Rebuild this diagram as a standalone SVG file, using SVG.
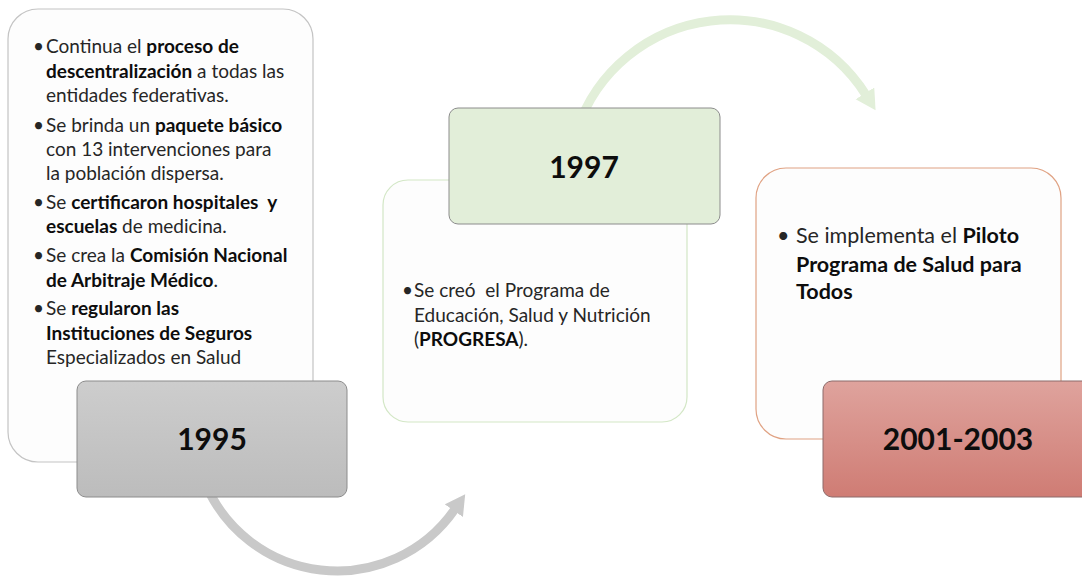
<svg xmlns="http://www.w3.org/2000/svg" width="1082" height="577" viewBox="0 0 1082 577">
<defs>
<style>
.t{font-family:Lato,"Liberation Sans",sans-serif;font-size:19px;fill:#262626}
.t3{font-family:Lato,"Liberation Sans",sans-serif;font-size:21.5px;fill:#262626}
.b{font-weight:bold;fill:#0d0d0d}
.yr{font-family:Lato,"Liberation Sans",sans-serif;font-size:30px;font-weight:bold;fill:#0d0d0d;text-anchor:middle}
.card{fill:#fdfdfd;stroke-width:1.2}
.yb{stroke-width:1}
</style>
<linearGradient id="gGray" x1="0" y1="0" x2="0" y2="1"><stop offset="0" stop-color="#cdcdcd"/><stop offset="1" stop-color="#bcbcbc"/></linearGradient>
<linearGradient id="gRed" x1="0" y1="0" x2="0" y2="1"><stop offset="0" stop-color="#dfa39d"/><stop offset="1" stop-color="#cf7c74"/></linearGradient>
<marker id="mGray" markerUnits="userSpaceOnUse" markerWidth="22" markerHeight="24" refX="2" refY="11" orient="auto"><path d="M0,0 L20,11 L0,22 Z" fill="#c9c9c9"/></marker>
<marker id="mGreen" markerUnits="userSpaceOnUse" markerWidth="22" markerHeight="24" refX="2" refY="11" orient="auto"><path d="M0,0 L20,11 L0,22 Z" fill="#e2efd9"/></marker>
</defs>
<rect width="1082" height="577" fill="#ffffff"/>
<g id="connectors">
<path d="M204,480 A143,143 0 0 0 455,509" fill="none" stroke="#c9c9c9" stroke-width="9" marker-end="url(#mGray)"/>
<path d="M577,130 A161,161 0 0 1 866,95" fill="none" stroke="#e2efd9" stroke-width="9" marker-end="url(#mGreen)"/>
</g>
<g id="card1995">
<rect class="card" x="8" y="9" width="305" height="453" rx="30" stroke="#c4c4c4"/>
<text class="t"><tspan x="33" y="53">•</tspan><tspan x="46" y="53">Continua el <tspan class="b">proceso de</tspan></tspan>
<tspan x="46" y="78"><tspan class="b">descentralización</tspan> a todas las</tspan>
<tspan x="46" y="102">entidades federativas.</tspan>
<tspan x="33" y="132">•</tspan><tspan x="46" y="132">Se brinda un <tspan class="b">paquete básico</tspan></tspan>
<tspan x="46" y="156">con 13 intervenciones para</tspan>
<tspan x="46" y="180">la población dispersa.</tspan>
<tspan x="33" y="209">•</tspan><tspan x="46" y="209">Se <tspan class="b">certificaron hospitales&#160; y</tspan></tspan>
<tspan x="46" y="233"><tspan class="b">escuelas</tspan> de medicina.</tspan>
<tspan x="33" y="262">•</tspan><tspan x="46" y="262">Se crea la <tspan class="b">Comisión Nacional</tspan></tspan>
<tspan x="46" y="287"><tspan class="b">de Arbitraje Médico</tspan>.</tspan>
<tspan x="33" y="315">•</tspan><tspan x="46" y="315">Se <tspan class="b">regularon las</tspan></tspan>
<tspan x="46" y="340" class="b">Instituciones de Seguros</tspan>
<tspan x="46" y="364">Especializados en Salud</tspan></text>
</g>
<g id="year1995">
<rect class="yb" x="77" y="381" width="270" height="116" rx="9" fill="url(#gGray)" stroke="#8c8c8c"/>
<text class="yr" x="212" y="450">1995</text>
</g>
<g id="card1997">
<rect class="card" x="383" y="180" width="304" height="242" rx="25" stroke="#d3e7c6"/>
<text class="t"><tspan x="402" y="297">•</tspan><tspan x="414" y="297">Se creó&#160; el Programa de</tspan>
<tspan x="414" y="322">Educación, Salud y Nutrición</tspan>
<tspan x="414" y="346">(<tspan class="b">PROGRESA</tspan>).</tspan></text>
</g>
<g id="year1997">
<rect class="yb" x="449" y="108" width="271" height="116" rx="9" fill="#e2eed9" stroke="#8c8c8c"/>
<text class="yr" x="584" y="178">1997</text>
</g>
<g id="card2001">
<rect class="card" x="756" y="168" width="305" height="271" rx="30" stroke="#e0a283"/>
<text class="t3"><tspan x="777" y="243">•</tspan><tspan x="796" y="243">Se implementa el <tspan class="b">Piloto</tspan></tspan>
<tspan x="796" y="272" class="b">Programa de Salud para</tspan>
<tspan x="796" y="299" class="b">Todos</tspan></text>
</g>
<g id="year2001">
<rect class="yb" x="823" y="381" width="270" height="116" rx="9" fill="url(#gRed)" stroke="#8c6b6b"/>
<text class="yr" x="958" y="450">2001-2003</text>
</g>
</svg>
